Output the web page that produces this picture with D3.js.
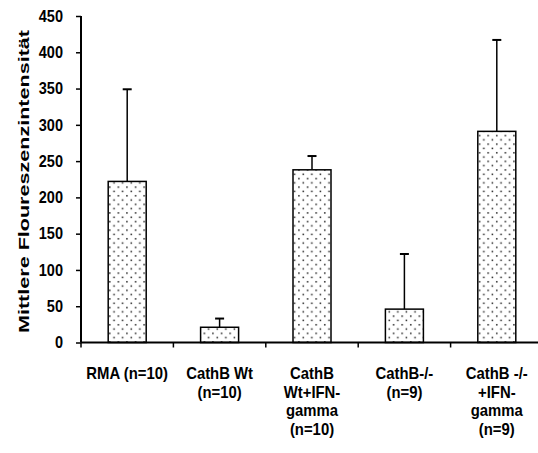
<!DOCTYPE html>
<html>
<head>
<meta charset="utf-8">
<script src="https://cdn.jsdelivr.net/npm/d3@7"></script>
<style>
  body { margin: 0; background: #fff; }
  text { font-family: "Liberation Sans", Arial, sans-serif; font-weight: bold; fill: #000; }
</style>
</head>
<body>
<div class="chartContainer"></div>
<script>
// data
const categories = ['RMA', 'CathB Wt', 'CathB Wt+IFN', 'CathB-/-', 'CathB -/- +IFN'];
const catLabels = [
  ['RMA (n=10)'],
  ['CathB Wt', '(n=10)'],
  ['CathB', 'Wt+IFN-', 'gamma', '(n=10)'],
  ['CathB-/-', '(n=9)'],
  ['CathB -/-', '+IFN-', 'gamma', '(n=9)']
];
const means = [222, 21, 238, 46, 291];
const errors = [127, 12, 19, 76, 126];
const yTicks = [0, 50, 100, 150, 200, 250, 300, 350, 400, 450];
const yTitle = 'Mittlere Floureszenzintensität';

const width = 538, height = 453;
const margins = { top: 16, left: 81, bottom: 110.5 };
const step = 92.4;

const svg = d3.select('.chartContainer')
  .append('svg')
  .attr('width', width)
  .attr('height', height);

// dotted fill like the old spreadsheet pattern
const pat = svg.append('defs').append('pattern')
  .attr('id', 'dots')
  .attr('patternUnits', 'userSpaceOnUse')
  .attr('width', 8.6).attr('height', 8.6);
pat.append('rect').attr('width', 8.6).attr('height', 8.6).attr('fill', '#fff');
pat.append('rect').attr('x', 1.5).attr('y', 1.5).attr('width', 1.5).attr('height', 1.5).attr('fill', '#222');
pat.append('rect').attr('x', 5.8).attr('y', 5.8).attr('width', 1.5).attr('height', 1.5).attr('fill', '#222');

const xScale = d3.scaleBand()
  .domain(categories)
  .range([margins.left, margins.left + step * categories.length])
  .padding(0);
const yScale = d3.scaleLinear()
  .domain([0, 450])
  .range([height - margins.bottom, margins.top]);

const barW = 38;
const chart = svg.append('g');

// error bars (upper only)
chart.selectAll('.err')
  .data(categories)
  .enter()
  .append('line')
  .attr('x1', (d) => xScale(d) + xScale.bandwidth() / 2)
  .attr('x2', (d) => xScale(d) + xScale.bandwidth() / 2)
  .attr('y1', (d, i) => yScale(means[i]))
  .attr('y2', (d, i) => yScale(means[i] + errors[i]))
  .attr('stroke', '#000').attr('stroke-width', 1.5);
chart.selectAll('.cap')
  .data(categories)
  .enter()
  .append('line')
  .attr('x1', (d) => xScale(d) + xScale.bandwidth() / 2 - 4.5)
  .attr('x2', (d) => xScale(d) + xScale.bandwidth() / 2 + 4.5)
  .attr('y1', (d, i) => yScale(means[i] + errors[i]))
  .attr('y2', (d, i) => yScale(means[i] + errors[i]))
  .attr('stroke', '#000').attr('stroke-width', 2);

chart.selectAll('rect')
  .data(categories)
  .enter()
  .append('rect')
  .attr('x', (d) => xScale(d) + xScale.bandwidth() / 2 - barW / 2)
  .attr('y', (d, i) => yScale(means[i]))
  .attr('width', barW)
  .attr('height', (d, i) => yScale(0) - yScale(means[i]))
  .attr('fill', 'url(#dots)')
  .attr('stroke', '#000')
  .attr('stroke-width', 1.5);

// y axis
const yAxis = svg.append('g')
  .attr('transform', `translate(${margins.left},0)`)
  .call(d3.axisLeft(yScale).tickValues(yTicks).tickSize(5));
yAxis.select('.domain').attr('stroke-width', 2).attr('d', `M0,${yScale(450)}V${yScale(0)}`);
yAxis.selectAll('.tick line').attr('stroke-width', 1.5);
// labels are a little narrow in the original
yAxis.selectAll('.tick text')
  .attr('x', -18 / 0.88)
  .attr('transform', 'scale(0.88,1)')
  .style('font-size', '16.5px')
  .style('font-family', '"Liberation Sans", Arial, sans-serif')
  .style('font-weight', 'bold');

// x axis: ticks sit between the categories
const xAxis = svg.append('g');
xAxis.append('line')
  .attr('x1', margins.left).attr('x2', margins.left + step * categories.length)
  .attr('y1', yScale(0)).attr('y2', yScale(0))
  .attr('stroke', '#000').attr('stroke-width', 2);
xAxis.selectAll('.xt')
  .data(categories)
  .enter()
  .append('line')
  .attr('x1', (d) => xScale(d)).attr('x2', (d) => xScale(d))
  .attr('y1', yScale(0)).attr('y2', yScale(0) + 5)
  .attr('stroke', '#000').attr('stroke-width', 1.5);

const labels = xAxis.selectAll('.xl')
  .data(categories)
  .enter()
  .append('text')
  .attr('text-anchor', 'middle')
  .attr('transform', (d) => `translate(${xScale(d) + xScale.bandwidth() / 2},0) scale(0.93,1)`)
  .style('font-size', '16px');
labels.selectAll('tspan')
  .data((d, i) => catLabels[i])
  .enter()
  .append('tspan')
  .attr('x', 0)
  .attr('y', (d, j) => 379.5 + j * 18.4)
  .text((d) => d);

// y title
svg.append('text')
  .attr('transform', `translate(28.5,${(30 + 333) / 2}) rotate(-90)`)
  .attr('text-anchor', 'middle')
  .attr('textLength', 303)
  .attr('lengthAdjust', 'spacingAndGlyphs')
  .style('font-size', '14.5px')
  .text(yTitle);
</script>
</body>
</html>
